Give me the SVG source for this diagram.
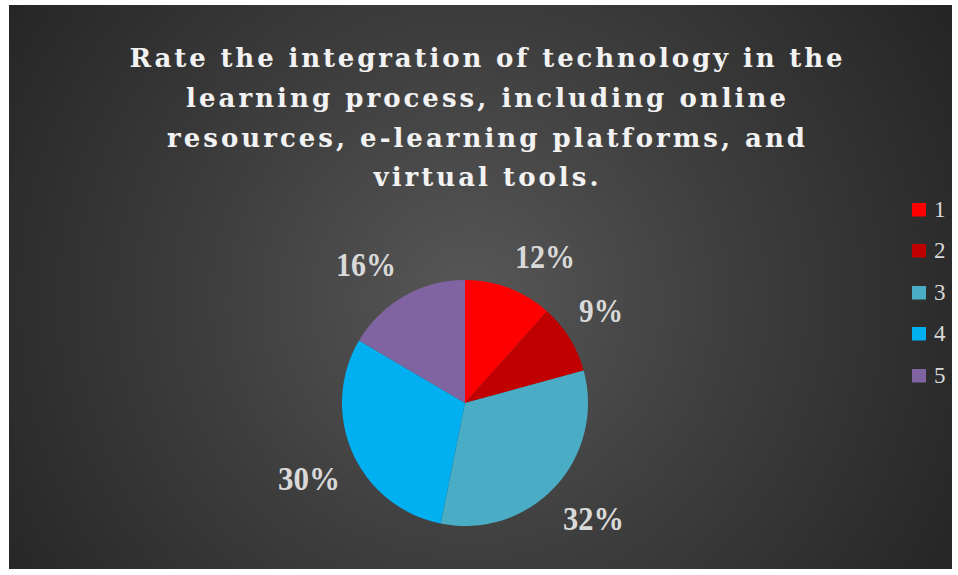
<svg xmlns="http://www.w3.org/2000/svg" width="958" height="575" viewBox="0 0 958 575">
<defs>
<radialGradient id="bg" gradientUnits="userSpaceOnUse" cx="470" cy="300" r="580">
<stop offset="0" stop-color="#575757"/>
<stop offset="0.45" stop-color="#3e3e3e"/>
<stop offset="1" stop-color="#232323"/>
</radialGradient>
<style>
.title{font-family:"DejaVu Serif","Liberation Serif",serif;font-weight:bold;font-size:26px;fill:#f2f2f2;text-anchor:middle}
.lbl{font-family:"Liberation Serif","DejaVu Serif",serif;font-weight:bold;font-size:33px;fill:#d9d9d9}
.leg{font-family:"Liberation Serif","DejaVu Serif",serif;font-size:23px;fill:#d9d9d9}
</style>
</defs>
<rect x="0" y="0" width="958" height="575" fill="#ffffff"/>
<rect x="9" y="5" width="943" height="564" fill="url(#bg)"/>
<g id="title">
<text class="title" x="486" y="67" textLength="713" lengthAdjust="spacing">Rate the integration of technology in the</text>
<text class="title" x="486" y="107" textLength="600" lengthAdjust="spacing">learning process, including online</text>
<text class="title" x="486" y="147" textLength="638" lengthAdjust="spacing">resources, e-learning platforms, and</text>
<text class="title" x="486" y="186" textLength="225" lengthAdjust="spacing">virtual tools.</text>
</g>
<g id="pie">
<g id="slice1"><path d="M465,403 L465,280 A123,123 0 0 1 546.98,311.30 Z" fill="#ff0000"/></g>
<g id="slice2"><path d="M465,403 L546.98,311.30 A123,123 0 0 1 583.65,370.54 Z" fill="#c00000"/></g>
<g id="slice3"><path d="M465,403 L583.65,370.54 A123,123 0 0 1 440.69,523.58 Z" fill="#4bacc6"/></g>
<g id="slice4"><path d="M465,403 L440.69,523.58 A123,123 0 0 1 359.02,340.58 Z" fill="#00b0f0"/></g>
<g id="slice5"><path d="M465,403 L359.02,340.58 A123,123 0 0 1 465,280 Z" fill="#8064a2"/></g>
</g>
<g id="labels">
<text class="lbl" x="515" y="268" textLength="60" lengthAdjust="spacingAndGlyphs">12%</text>
<text class="lbl" x="579" y="322" textLength="44" lengthAdjust="spacingAndGlyphs">9%</text>
<text class="lbl" x="563" y="530" textLength="61" lengthAdjust="spacingAndGlyphs">32%</text>
<text class="lbl" x="278" y="490" textLength="62" lengthAdjust="spacingAndGlyphs">30%</text>
<text class="lbl" x="336" y="276" textLength="60" lengthAdjust="spacingAndGlyphs">16%</text>
</g>
<g id="legend">
<g id="leg1"><rect x="912" y="203" width="14" height="13.5" fill="#ff0000"/><text class="leg" x="934" y="217">1</text></g>
<g id="leg2"><rect x="912" y="244" width="14" height="13.5" fill="#c00000"/><text class="leg" x="934" y="258">2</text></g>
<g id="leg3"><rect x="912" y="286" width="14" height="13.5" fill="#4bacc6"/><text class="leg" x="934" y="300">3</text></g>
<g id="leg4"><rect x="912" y="327" width="14" height="13.5" fill="#00b0f0"/><text class="leg" x="934" y="341">4</text></g>
<g id="leg5"><rect x="912" y="369" width="14" height="13.5" fill="#8064a2"/><text class="leg" x="934" y="383">5</text></g>
</g>
</svg>
